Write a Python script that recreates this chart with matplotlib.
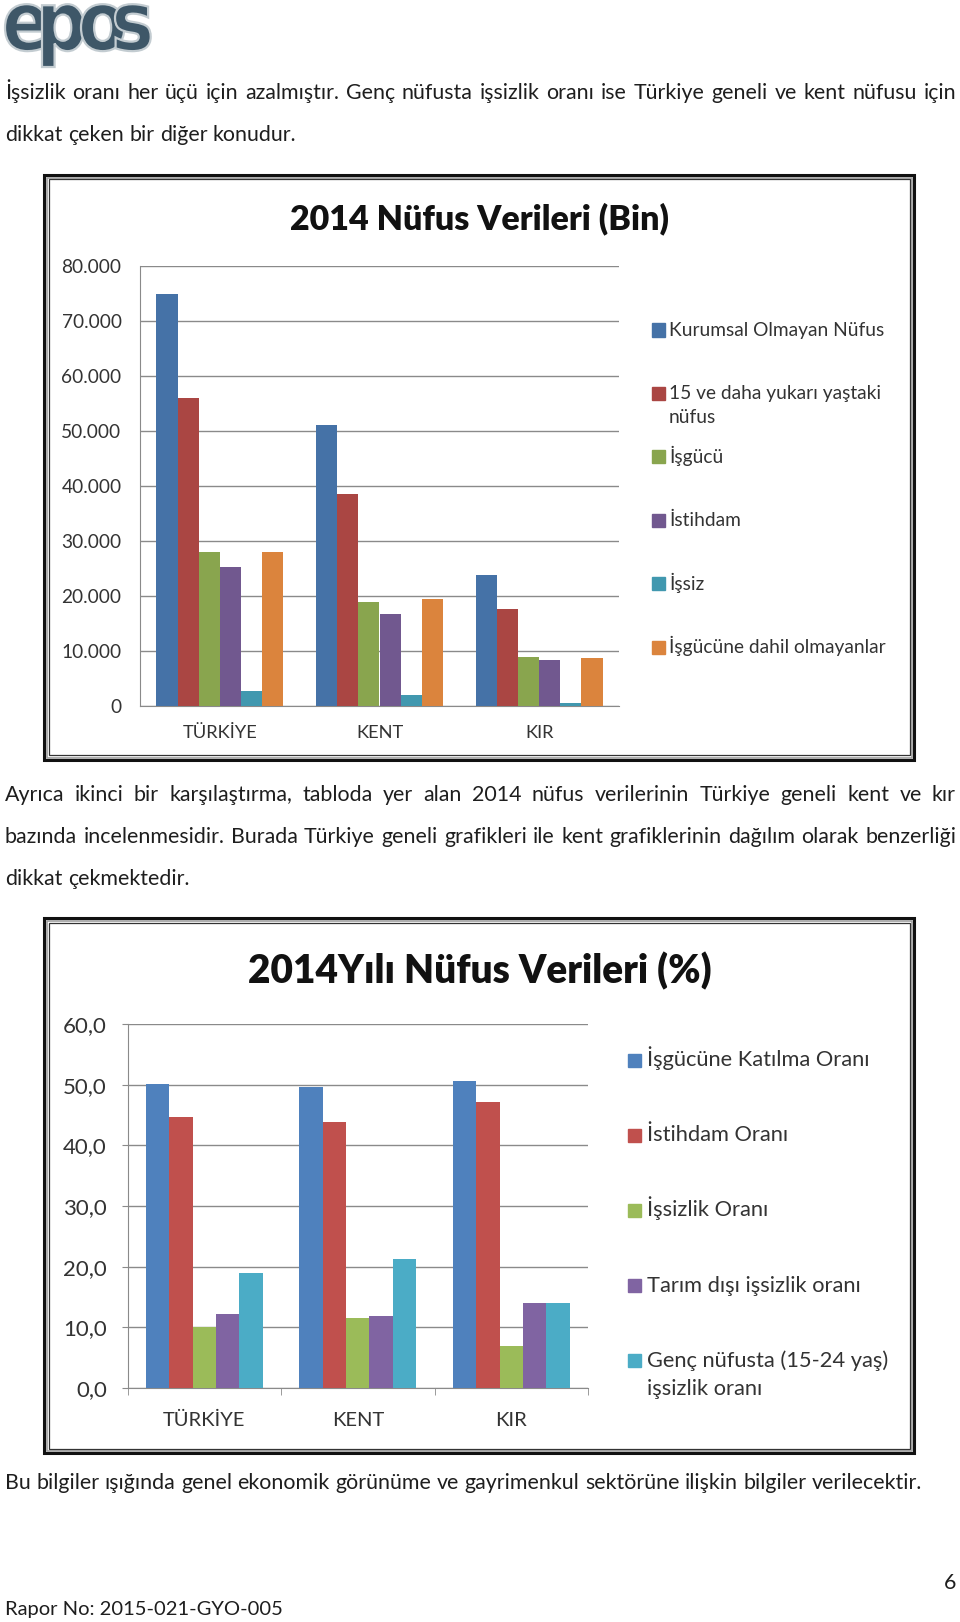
import numpy as np
import matplotlib
matplotlib.use('Agg')
from matplotlib import pyplot as plt
from matplotlib.patches import Rectangle, PathPatch
from matplotlib.textpath import TextPath
from matplotlib.font_manager import FontProperties
from matplotlib.transforms import Affine2D, IdentityTransform

plt.rcParams['font.family'] = ['Lato', 'DejaVu Sans']

# ---- data ----
regions = ['TÜRKİYE', 'KENT', 'KIR']

# 2014 Nüfus Verileri (Bin)
bin_labels = ['Kurumsal Olmayan Nüfus', '15 ve daha yukarı yaştaki\nnüfus', 'İşgücü',
              'İstihdam', 'İşsiz', 'İşgücüne dahil olmayanlar']
kurumsal_olmayan = [74900, 51150, 23760]
nufus_15_ustu = [56000, 38470, 17700]
isgucu = [28000, 18950, 8850]
istihdam = [25200, 16720, 8290]
issiz = [2800, 2090, 630]
dahil_olmayan = [28000, 19370, 8710]
bin_ticks = [0, 10000, 20000, 30000, 40000, 50000, 60000, 70000, 80000]

# 2014 Yılı Nüfus Verileri (%)
oran_labels = ['İşgücüne Katılma Oranı', 'İstihdam Oranı', 'İşsizlik Oranı',
               'Tarım dışı işsizlik oranı', 'Genç nüfusta (15-24 yaş)\nişsizlik oranı']
katilma_orani = [50.1, 49.6, 50.6]
istihdam_orani = [44.7, 43.9, 47.1]
issizlik_orani = [10.1, 11.6, 7.0]
tarim_disi = [12.2, 11.9, 14.0]
genc_issizlik = [19.0, 21.2, 14.0]
oran_ticks = [0, 10, 20, 30, 40, 50, 60]

bin_colors = ['#4572A7', '#AA4643', '#89A54E', '#71588F', '#4198AF', '#DB843D']
oran_colors = ['#4F81BD', '#C0504D', '#9BBB59', '#8064A2', '#4BACC6']
TXT = '#1e1e1e'
GRID = '#8a8a8a'

W, H = 960, 1622
fig = plt.figure(figsize=(W / 100, H / 100), dpi=100)
rend = fig.canvas.get_renderer()


def box(left, top, right, bottom):
    return [left / W, 1 - bottom / H, (right - left) / W, (bottom - top) / H]


def width_of(s, size, **kw):
    t = fig.text(0, 0, s, fontsize=size, **kw)
    w = t.get_window_extent(rend).width
    t.remove()
    return w


def fit(s, px, **kw):
    return 20 * px / width_of(s, 20, **kw)


def put(x, y, s, size, **kw):
    kw.setdefault('va', 'center')
    return fig.text(x / W, 1 - y / H, s, fontsize=size, **kw)


def line(y, s, size, justify, x0=5, x1=956):
    # y is the visual middle of the line; text sits on a baseline a bit lower
    words = s.split(' ')
    ws = [width_of(w, size) for w in words]
    if justify:
        gap = (x1 - x0 - sum(ws)) / (len(words) - 1)
    else:
        gap = width_of('a a', size) - 2 * width_of('a', size)
    x = x0
    for w, wd in zip(words, ws):
        put(x, y + 8, w, size, color=TXT, va='baseline')
        x += wd + gap


def frame(left, top, right, bottom):
    fig.patches.append(Rectangle((left / W, 1 - bottom / H), (right - left) / W, (bottom - top) / H,
                                 transform=fig.transFigure, fill=False, ec='#111111', lw=2.2))
    fig.patches.append(Rectangle(((left + 2.5) / W, 1 - (bottom - 2.5) / H), (right - left - 5) / W,
                                 (bottom - top - 5) / H, transform=fig.transFigure, fill=False,
                                 ec='#a0a0a0', lw=1.2))
    fig.patches.append(Rectangle(((left + 4.5) / W, 1 - (bottom - 4.5) / H), (right - left - 9) / W,
                                 (bottom - top - 9) / H, transform=fig.transFigure, fill=False,
                                 ec='#333333', lw=0.9))


def bars(ax, series, colors, group):
    x = np.arange(len(regions))
    w = group / len(series)
    for i, (vals, c) in enumerate(zip(series, colors)):
        ax.bar(x - group / 2 + w * (i + 0.5), vals, w, color=c, linewidth=0, zorder=3)
    ax.set_xlim(-0.5, len(regions) - 0.5)


def legend(labels, colors, x_sq, x_txt, y0, step, size, lstep):
    for i, (lab, c) in enumerate(zip(labels, colors)):
        y = y0 + i * step
        fig.patches.append(Rectangle((x_sq / W, 1 - (y + 6.5) / H), 13 / W, 13 / H,
                                     transform=fig.transFigure, color=c))
        for k, part in enumerate(lab.split('\n')):
            put(x_txt, y + 6 + k * lstep, part, size, color='#333333', va='baseline')


# ---- logo: heavy round letters, slightly overlapping ----
logo_fp = FontProperties(family='DejaVu Sans', weight='bold')
xh = TextPath((0, 0), 'o', size=1, prop=logo_fp).get_extents().height
k = 47 / xh
for ch, left in zip('epos', [5, 42, 81, 115]):
    p = TextPath((0, 0), ch, size=1, prop=logo_fp)
    ext = p.get_extents()
    tr = Affine2D().translate(-ext.x0, 0).scale(k * 0.88, k).translate(left, H - 50)
    fig.add_artist(PathPatch(tr.transform_path(p), transform=IdentityTransform(),
                             fc='#3e5768', ec='#c3ccd1', lw=1.6))

# ---- body text ----
body = fit('Bu bilgiler ışığında genel ekonomik görünüme ve gayrimenkul sektörüne ilişkin bilgiler verilecektir.', 916)
line(91, 'İşsizlik oranı her üçü için azalmıştır. Genç nüfusta işsizlik oranı ise Türkiye geneli ve kent nüfusu için', body, True)
line(133, 'dikkat çeken bir diğer konudur.', body, False)
line(793, 'Ayrıca ikinci bir karşılaştırma, tabloda yer alan 2014 nüfus verilerinin Türkiye geneli kent ve kır', body, True)
line(835, 'bazında incelenmesidir. Burada Türkiye geneli grafikleri ile kent grafiklerinin dağılım olarak benzerliği', body, True)
line(877, 'dikkat çekmektedir.', body, False)
line(1481, 'Bu bilgiler ışığında genel ekonomik görünüme ve gayrimenkul sektörüne ilişkin bilgiler verilecektir.', body, False)
put(950, 1583, '6', body, color=TXT, ha='center')
put(5, 1610, 'Rapor No: 2015-021-GYO-005', fit('Rapor No: 2015-021-GYO-005', 277), color=TXT)

# ---- chart 1 ----
frame(44, 175, 914, 760)
put(480, 219, '2014 Nüfus Verileri (Bin)', fit('2014 Nüfus Verileri (Bin)', 380, weight='heavy'),
    weight='heavy', color='#111111', ha='center')
ax1 = fig.add_axes(box(140, 266, 619, 706))
bars(ax1, [kurumsal_olmayan, nufus_15_ustu, isgucu, istihdam, issiz, dahil_olmayan], bin_colors, 0.794)
ax1.set_ylim(0, 80000)
ax1.set_yticks(bin_ticks)
ax1.set_yticklabels([f'{v:,.0f}'.replace(',', '.') for v in bin_ticks])
ax1.set_xticks(range(len(regions)))
ax1.set_xticklabels(regions)
ax1.yaxis.grid(True, color=GRID, lw=1)
ax1.set_axisbelow(True)
for s in ['top', 'right']:
    ax1.spines[s].set_visible(False)
for s in ['left', 'bottom']:
    ax1.spines[s].set_color(GRID)
ax1.tick_params(axis='y', length=0, pad=13.3, labelsize=fit('80.000', 60), labelcolor='#333333')
ax1.tick_params(axis='x', length=0, pad=14, labelsize=fit('TÜRKİYE', 75), labelcolor='#333333')
legend(bin_labels, bin_colors, 652, 669, 330, 63.4, fit('Kurumsal Olmayan Nüfus', 215), 24)

# ---- chart 2 ----
frame(44, 918, 914, 1453)
put(480, 971, '2014Yılı Nüfus Verileri (%)', fit('2014Yılı Nüfus Verileri (%)', 464, weight='heavy'),
    weight='heavy', color='#111111', ha='center')
ax2 = fig.add_axes(box(127.5, 1024, 588, 1388))
bars(ax2, [katilma_orani, istihdam_orani, issizlik_orani, tarim_disi, genc_issizlik], oran_colors, 0.76)
ax2.set_ylim(0, 60)
ax2.set_yticks(oran_ticks)
ax2.set_yticklabels([f'{v:.1f}'.replace('.', ',') for v in oran_ticks])
ax2.set_xticks(range(len(regions)))
ax2.set_xticklabels(regions)
ax2.set_xticks(np.arange(len(regions) + 1) - 0.5, minor=True)
ax2.yaxis.grid(True, color=GRID, lw=1)
ax2.set_axisbelow(True)
for s in ['top', 'right']:
    ax2.spines[s].set_visible(False)
for s in ['left', 'bottom']:
    ax2.spines[s].set_color(GRID)
ax2.tick_params(axis='y', length=4.3, color=GRID, pad=10.5, labelsize=fit('60,0', 44), labelcolor='#333333')
ax2.tick_params(axis='x', which='major', length=0, pad=17.5, labelsize=fit('TÜRKİYE', 82), labelcolor='#333333')
ax2.tick_params(axis='x', which='minor', length=5, color=GRID)
legend(oran_labels, oran_colors, 628, 647, 1060, 75.2, fit('İşgücüne Katılma Oranı', 224), 28)

fig.savefig('out.png', dpi=100, facecolor='white')
